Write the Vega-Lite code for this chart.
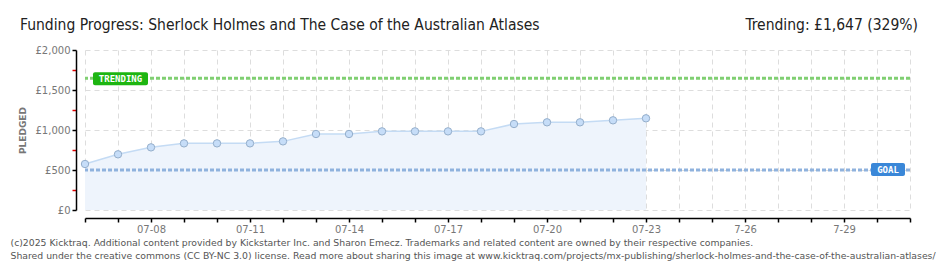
{
  "$schema": "https://vega.github.io/schema/vega-lite/v6.json",
  "width": 825,
  "height": 160,
  "autosize": {"type": "none"},
  "padding": {"left": 85, "top": 50, "right": 30, "bottom": 60},
  "background": "white",
  "config": {"view": {"stroke": null}, "axis": {"labelOverlap": false}},
  "datasets": {
    "pledges": [
      {"date": "2025-07-06", "pledged": 575},
      {"date": "2025-07-07", "pledged": 696},
      {"date": "2025-07-08", "pledged": 783},
      {"date": "2025-07-09", "pledged": 833},
      {"date": "2025-07-10", "pledged": 833},
      {"date": "2025-07-11", "pledged": 833},
      {"date": "2025-07-12", "pledged": 858},
      {"date": "2025-07-13", "pledged": 950},
      {"date": "2025-07-14", "pledged": 950},
      {"date": "2025-07-15", "pledged": 983},
      {"date": "2025-07-16", "pledged": 983},
      {"date": "2025-07-17", "pledged": 983},
      {"date": "2025-07-18", "pledged": 983},
      {"date": "2025-07-19", "pledged": 1075},
      {"date": "2025-07-20", "pledged": 1096},
      {"date": "2025-07-21", "pledged": 1096},
      {"date": "2025-07-22", "pledged": 1121},
      {"date": "2025-07-23", "pledged": 1146}
    ],
    "goal": [{"label": "GOAL", "amount": 500, "date": "2025-07-31"}],
    "trending": [{"label": "TRENDING", "amount": 1647, "date": "2025-07-06"}],
    "headline": [{"text": "Funding Progress: Sherlock Holmes and The Case of the Australian Atlases", "date": "2025-07-06", "amount": 2000}],
    "trendtext": [{"text": "Trending:  £1,647 (329%)", "date": "2025-07-31", "amount": 2000}]
  },
  "data": {"name": "pledges"},
  "encoding": {
    "x": {
      "field": "date", "type": "temporal",
      "scale": {"type": "utc", "domain": [{"year": 2025, "month": 7, "date": 6, "utc": true}, {"year": 2025, "month": 7, "date": 31, "utc": true}]},
      "axis": {
        "values": [
          {"year": 2025, "month": 7, "date": 6, "utc": true},{"year": 2025, "month": 7, "date": 7, "utc": true},{"year": 2025, "month": 7, "date": 8, "utc": true},{"year": 2025, "month": 7, "date": 9, "utc": true},{"year": 2025, "month": 7, "date": 10, "utc": true},{"year": 2025, "month": 7, "date": 11, "utc": true},{"year": 2025, "month": 7, "date": 12, "utc": true},{"year": 2025, "month": 7, "date": 13, "utc": true},{"year": 2025, "month": 7, "date": 14, "utc": true},{"year": 2025, "month": 7, "date": 15, "utc": true},{"year": 2025, "month": 7, "date": 16, "utc": true},{"year": 2025, "month": 7, "date": 17, "utc": true},{"year": 2025, "month": 7, "date": 18, "utc": true},{"year": 2025, "month": 7, "date": 19, "utc": true},{"year": 2025, "month": 7, "date": 20, "utc": true},{"year": 2025, "month": 7, "date": 21, "utc": true},{"year": 2025, "month": 7, "date": 22, "utc": true},{"year": 2025, "month": 7, "date": 23, "utc": true},{"year": 2025, "month": 7, "date": 24, "utc": true},{"year": 2025, "month": 7, "date": 25, "utc": true},{"year": 2025, "month": 7, "date": 26, "utc": true},{"year": 2025, "month": 7, "date": 27, "utc": true},{"year": 2025, "month": 7, "date": 28, "utc": true},{"year": 2025, "month": 7, "date": 29, "utc": true},{"year": 2025, "month": 7, "date": 30, "utc": true},{"year": 2025, "month": 7, "date": 31, "utc": true}
        ],
        "labelExpr": "(utcdate(datum.value) - 8) % 3 === 0 ? (utcdate(datum.value) >= 26 ? utcFormat(datum.value, '%-m-%d') : utcFormat(datum.value, '%m-%d')) : ''",
        "labelOverlap": false,
        "offset": 8,
        "domainColor": "#000", "domainWidth": 1.5,
        "tickColor": "#000", "tickSize": 4, "tickWidth": 1.5,
        "labelFont": "DejaVu Sans", "labelFontSize": 10, "labelColor": "#777", "labelPadding": 2, "labelFlush": false,
        "grid": true, "gridColor": "#DDDDDD", "gridDash": [5, 4], "gridWidth": 1,
        "title": [
          "(c)2025 Kicktraq. Additional content provided by Kickstarter Inc. and Sharon Emecz. Trademarks and related content are owned by their respective companies.",
          "Shared under the creative commons (CC BY-NC 3.0) license. Read more about sharing this image at www.kicktraq.com/projects/mx-publishing/sherlock-holmes-and-the-case-of-the-australian-atlases/"
        ],
        "titleAnchor": "start", "titleAlign": "left", "titleBaseline": "top",
        "titleX": -75, "titleY": 20, "titleLineHeight": 13,
        "titleFont": "DejaVu Sans", "titleFontSize": 9.3, "titleFontWeight": "normal", "titleColor": "#555"
      }
    },
    "y": {
      "field": "pledged", "type": "quantitative",
      "scale": {"domain": [0, 2000], "nice": false, "zero": true},
      "axis": {
        "values": [0, 250, 500, 750, 1000, 1250, 1500, 1750, 2000],
        "labelExpr": "datum.value % 500 === 0 ? '£' + format(datum.value, ',') : ''",
        "offset": 9,
        "domainColor": "#000", "domainWidth": 1.5,
        "tickColor": {"condition": {"test": "datum.value % 500 === 0", "value": "#000"}, "value": "#E00000"},
        "tickSize": 4, "tickWidth": 1.5,
        "labelFont": "DejaVu Sans", "labelFontSize": 10, "labelColor": "#777", "labelPadding": 2,
        "grid": true, "gridColor": "#DDDDDD", "gridDash": [5, 4], "gridWidth": 1,
        "gridOpacity": {"condition": {"test": "datum.value % 500 === 0", "value": 1}, "value": 0},
        "title": "PLEDGED", "titleFont": "DejaVu Sans", "titleFontSize": 9, "titleFontWeight": "bold", "titleColor": "#777",
        "titleAngle": 270, "titleAlign": "center", "titleBaseline": "middle", "titleX": -54, "titleY": 80
      }
    }
  },
  "layer": [
    {
      "mark": {"type": "area", "color": "#EEF4FC", "opacity": 1}
    },
    {
      "mark": {"type": "line", "color": "#C4DBF4", "strokeWidth": 1.5}
    },
    {
      "data": {"name": "goal"},
      "mark": {"type": "rule", "color": "#8FB2DD", "strokeWidth": 3, "strokeDash": [4, 2]},
      "encoding": {"x": null, "y": {"field": "amount", "type": "quantitative"}}
    },
    {
      "data": {"name": "trending"},
      "mark": {"type": "rule", "color": "#80CF72", "strokeWidth": 3, "strokeDash": [4, 2]},
      "encoding": {"x": null, "y": {"field": "amount", "type": "quantitative"}}
    },
    {
      "mark": {"type": "point", "filled": true, "fill": "#C6DDF8", "stroke": "#94AECB", "strokeWidth": 1, "size": 55, "opacity": 1}
    },
    {
      "data": {"name": "trending"},
      "mark": {"type": "rect", "color": "#1DB511", "cornerRadius": 2, "xOffset": 8, "x2Offset": 63, "yOffset": -6, "y2Offset": 7},
      "encoding": {
        "x": {"field": "date", "type": "temporal"},
        "x2": {"field": "date"},
        "y": {"field": "amount", "type": "quantitative"},
        "y2": {"field": "amount"}
      }
    },
    {
      "data": {"name": "trending"},
      "mark": {"type": "text", "fill": "white", "font": "DejaVu Sans Mono", "fontSize": 9, "fontWeight": "bold", "align": "center", "baseline": "middle", "dx": 35.5, "dy": 0.5},
      "encoding": {
        "x": {"field": "date", "type": "temporal"},
        "y": {"field": "amount", "type": "quantitative"},
        "text": {"field": "label"}
      }
    },
    {
      "data": {"name": "goal"},
      "mark": {"type": "rect", "color": "#3A87D8", "cornerRadius": 2, "xOffset": -39, "x2Offset": -5, "yOffset": -7, "y2Offset": 6},
      "encoding": {
        "x": {"field": "date", "type": "temporal"},
        "x2": {"field": "date"},
        "y": {"field": "amount", "type": "quantitative"},
        "y2": {"field": "amount"}
      }
    },
    {
      "data": {"name": "goal"},
      "mark": {"type": "text", "fill": "white", "font": "DejaVu Sans Mono", "fontSize": 9, "fontWeight": "bold", "align": "center", "baseline": "middle", "dx": -22, "dy": -0.5},
      "encoding": {
        "x": {"field": "date", "type": "temporal"},
        "y": {"field": "amount", "type": "quantitative"},
        "text": {"field": "label"}
      }
    },
    {
      "data": {"name": "headline"},
      "mark": {"type": "text", "fill": "#222", "font": "DejaVu Sans Condensed", "fontSize": 15.5, "fontWeight": "normal", "align": "left", "baseline": "alphabetic", "dx": -65, "dy": -20},
      "encoding": {
        "x": {"field": "date", "type": "temporal"},
        "y": {"field": "amount", "type": "quantitative"},
        "text": {"field": "text"}
      }
    },
    {
      "data": {"name": "trendtext"},
      "mark": {"type": "text", "fill": "#222", "font": "DejaVu Sans Condensed", "fontSize": 15.5, "fontWeight": "normal", "align": "right", "baseline": "alphabetic", "dx": 8, "dy": -20},
      "encoding": {
        "x": {"field": "date", "type": "temporal"},
        "y": {"field": "amount", "type": "quantitative"},
        "text": {"field": "text"}
      }
    }
  ]
}
